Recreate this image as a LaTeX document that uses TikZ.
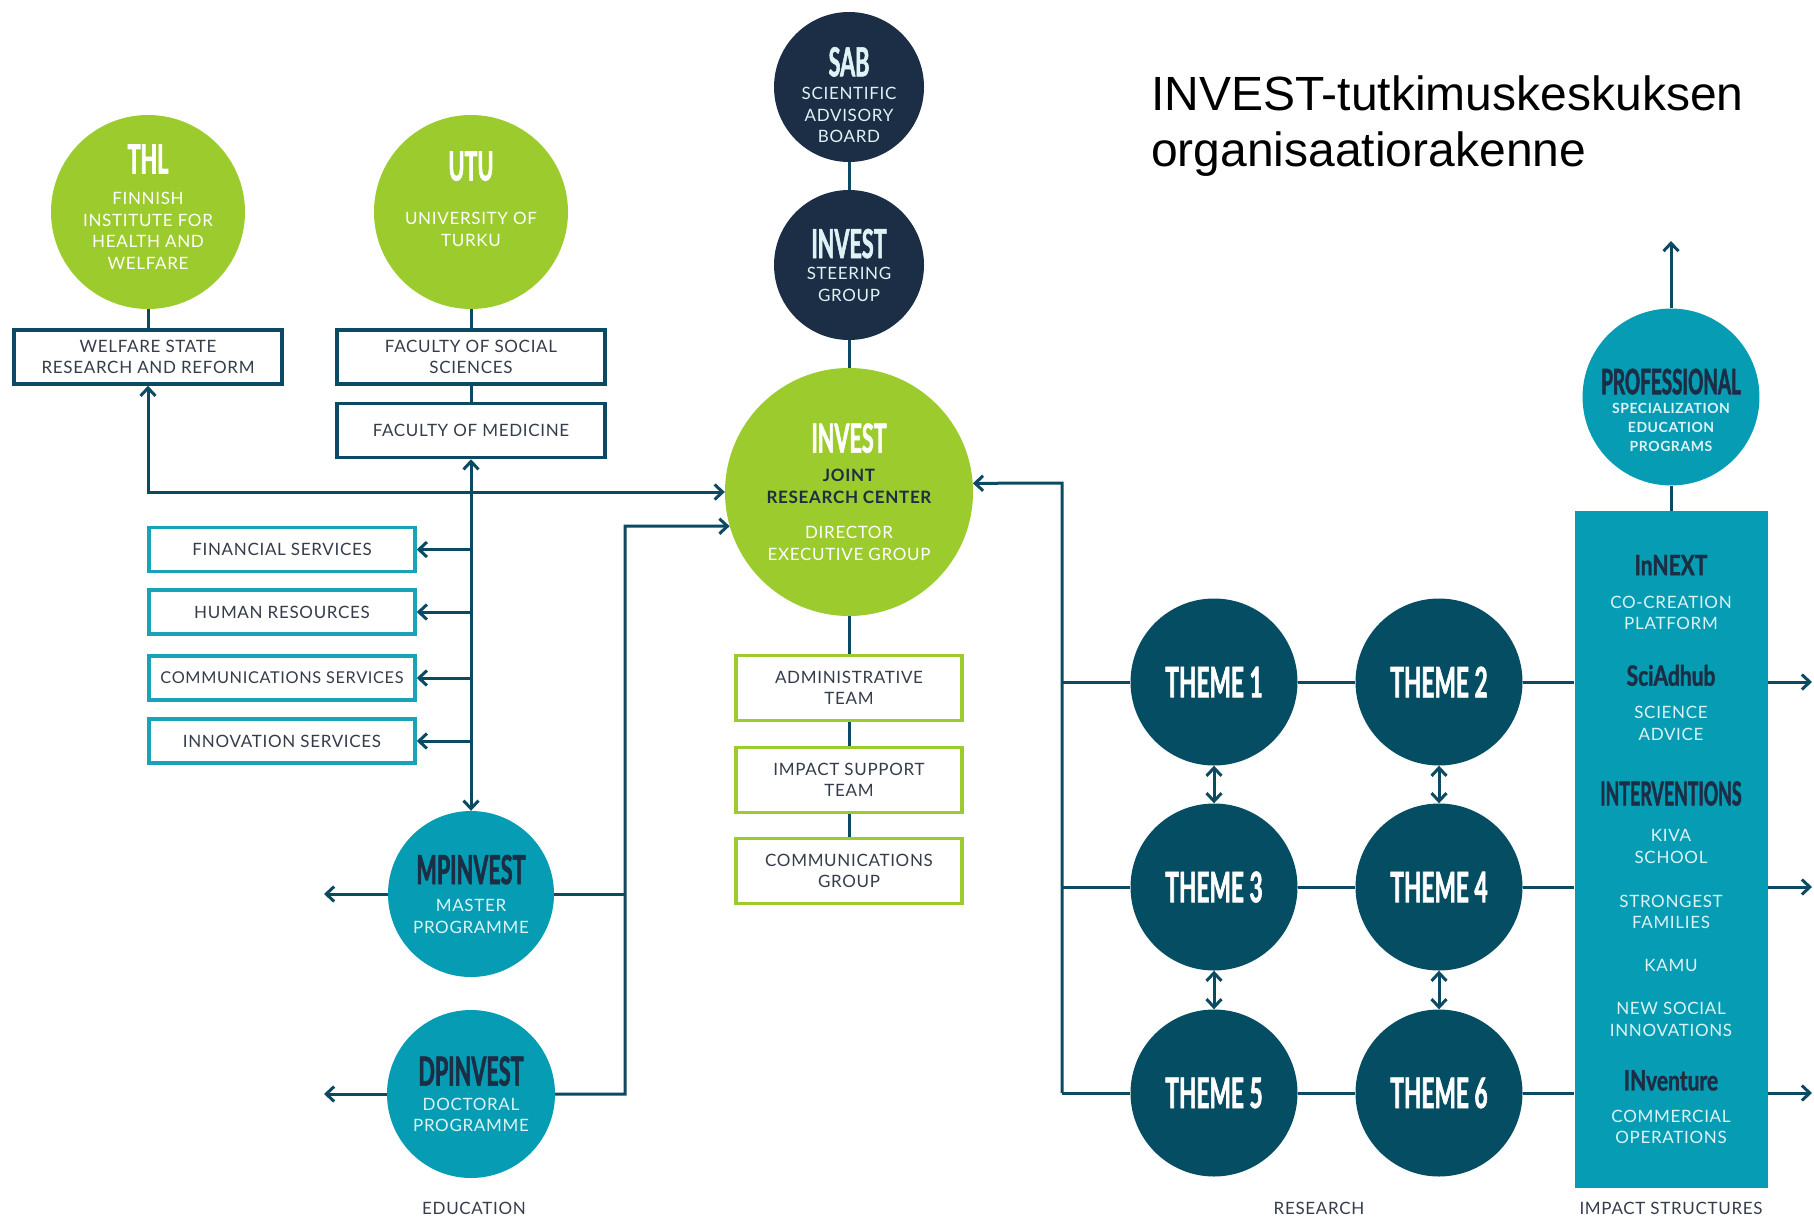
\documentclass[tikz,border=0pt]{standalone}
\usepackage{fontspec}
\setmainfont{Lato}
\newfontfamily\bodyfont[LetterSpace=4]{Lato}
\newfontfamily\headfont[FakeStretch=0.54, FakeBold=1.5]{Lato}
\newfontfamily\subheadfont[FakeStretch=0.75, FakeBold=1.2]{Lato}
\newfontfamily\titlefont{Liberation Sans}
\usetikzlibrary{arrows.meta}

\definecolor{invgreen}{HTML}{9BCB2D}
\definecolor{invnavy}{HTML}{1B2E45}
\definecolor{invdeep}{HTML}{054D63}
\definecolor{invteal}{HTML}{069CB3}
\definecolor{invsky}{HTML}{1AA3B8}
\definecolor{invline}{HTML}{0B4A62}
\definecolor{invtext}{HTML}{353D4A}
\definecolor{invpale}{HTML}{DDF3F6}

\newcommand\blobhead[2][40]{{\headfont\bfseries\fontsize{#1}{#1}\selectfont #2}}
\newcommand\unithead[2][28]{{\subheadfont\bfseries\fontsize{#1}{#1}\selectfont #2}}

\tikzset{
  link/.style={draw=invline, line width=3pt},
  blob/.style={circle, inner sep=0pt, align=center,
    font=\bodyfont\fontsize{17}{21.5}\selectfont},
  limeblob/.style={blob, fill=invgreen, text=white},
  navyblob/.style={blob, fill=invnavy, text=invpale, minimum size=150pt},
  tealblob/.style={blob, fill=invteal, text=invpale},
  themeblob/.style={blob, fill=invdeep, text=white, minimum size=167pt,
    font=\headfont\bfseries\fontsize{42}{42}\selectfont},
  unitbox/.style={rectangle, draw=invline, line width=3.5pt, fill=white,
    align=center, inner sep=0pt, minimum width=268pt, minimum height=54pt,
    text=invtext, font=\bodyfont\fontsize{17}{21}\selectfont},
  servbox/.style={unitbox, draw=invsky, minimum width=266pt, minimum height=44pt},
  teambox/.style={unitbox, draw=invgreen, minimum width=226pt, minimum height=65pt},
  impactbox/.style={rectangle, fill=invteal, inner sep=0pt, align=center,
    minimum width=193pt, minimum height=677pt, text=invpale,
    font=\bodyfont\fontsize{17}{21.5}\selectfont},
  caption/.style={text=invtext, font=\bodyfont\fontsize{17}{20}\selectfont}
}

\begin{document}
\begin{tikzpicture}[x=1pt, y=-1pt, >={Straight Barb[length=8pt,width=15pt]}]
\useasboundingbox (0,0) rectangle (1814,1218);

% Title
\node[anchor=north west, inner sep=0pt, align=left,
  font=\titlefont\fontsize{48}{56}\selectfont] (title) at (1151,75.5)
  {INVEST-tutkimuskeskuksen\\organisaatiorakenne};

% Partners
\node[limeblob, minimum size=194pt] (thl) at (148,212) {\blobhead{THL}\\[10pt]FINNISH\\INSTITUTE FOR\\HEALTH AND\\WELFARE\\[-11.5pt]\mbox{}};
\node[limeblob, minimum size=194pt] (utu) at (471,212) {\blobhead{UTU}\\[23pt]UNIVERSITY OF\\TURKU\\[4.5pt]\mbox{}};
\node[unitbox] (welfare) at (148,357) {WELFARE STATE\\RESEARCH AND REFORM};
\node[unitbox] (social) at (471,357) {FACULTY OF SOCIAL\\SCIENCES};
\node[unitbox] (medicine) at (471,430.5) {FACULTY OF MEDICINE};

% Services
\node[servbox] (finance) at (282,549.5) {FINANCIAL SERVICES};
\node[servbox] (hr) at (282,612) {HUMAN RESOURCES};
\node[servbox, font=\bodyfont\fontsize{16.3}{21}\selectfont] (commserv) at (282,678) {COMMUNICATIONS SERVICES};
\node[servbox] (innov) at (282,741) {INNOVATION SERVICES};

% Governance
\node[navyblob] (sab) at (849,87) {\mbox{}\\[15pt]\blobhead{SAB}\\[2pt]SCIENTIFIC\\ADVISORY\\BOARD};
\node[navyblob] (steer) at (849,265) {\blobhead{INVEST}\\STEERING\\GROUP};
\node[limeblob, minimum size=248pt, font=\bodyfont\fontsize{17}{22.5}\selectfont] (jrc) at (849,492)
  {\blobhead{INVEST}\\[6pt]\textcolor{invnavy}{\bfseries JOINT}\\\textcolor{invnavy}{\bfseries RESEARCH CENTER}\\[12pt]DIRECTOR\\EXECUTIVE GROUP};
\node[teambox] (admin) at (849,688) {ADMINISTRATIVE\\TEAM};
\node[teambox] (impsup) at (849,780) {IMPACT SUPPORT\\TEAM};
\node[teambox] (commgrp) at (849,871) {COMMUNICATIONS\\GROUP};

% Education
\node[tealblob, minimum size=166pt] (mp) at (471,894) {\textcolor{invnavy}{\blobhead{MPINVEST}}\\[6pt]MASTER\\PROGRAMME};
\node[tealblob, minimum size=168pt] (dp) at (471,1094) {\textcolor{invnavy}{\blobhead{DPINVEST}}\\[3pt]DOCTORAL\\PROGRAMME};

% Research
\node[themeblob] (t1) at (1214,682) {THEME 1};
\node[themeblob] (t2) at (1439,682) {THEME 2};
\node[themeblob] (t3) at (1214,887) {THEME 3};
\node[themeblob] (t4) at (1439,887) {THEME 4};
\node[themeblob] (t5) at (1214,1093) {THEME 5};
\node[themeblob] (t6) at (1439,1093) {THEME 6};

% Impact structures
\node[tealblob, minimum size=174pt, font=\bodyfont\bfseries\fontsize{14}{19}\selectfont] (prof) at (1671,397)
  {\mbox{}\\[25pt]\textcolor{invnavy}{\blobhead[35]{PROFESSIONAL}}\\SPECIALIZATION\\EDUCATION\\PROGRAMS};
\node[impactbox] (impact) at (1671,849.5)
  {\textcolor{invnavy}{\unithead{InNEXT}}\\[11.5pt]CO-CREATION\\PLATFORM\\[34.5pt]
   \textcolor{invnavy}{\unithead{SciAdhub}}\\[11.5pt]SCIENCE\\ADVICE\\[40pt]
   \textcolor{invnavy}{\blobhead[33]{INTERVENTIONS}}\\[15pt]KIVA\\SCHOOL\\[22.5pt]
   STRONGEST\\FAMILIES\\[21.5pt]KAMU\\[21.5pt]NEW SOCIAL\\INNOVATIONS\\[32.5pt]
   \textcolor{invnavy}{\unithead{INventure}}\\[10.5pt]COMMERCIAL\\OPERATIONS};

% Captions
\node[caption] (educap) at (474,1208) {EDUCATION};
\node[caption] (rescap) at (1319,1208) {RESEARCH};
\node[caption] (impcap) at (1671,1208) {IMPACT STRUCTURES};

% Free ends
\coordinate (edubus) at (625,526);
\coordinate (resbus) at (1062,483);
\coordinate (mpout) at (324,894);
\coordinate (dpout) at (324,1094);
\coordinate (profout) at (1671,241);
\coordinate (out1) at (1812,682);
\coordinate (out2) at (1812,887);
\coordinate (out3) at (1812,1093);

% Partner links
\draw[link] (thl) -- (welfare);
\draw[link] (utu) -- (social) -- (medicine);
\draw[link, <->] (welfare) |- (jrc.west);
\draw[link, <->] (medicine) -- (mp);
\draw[link, ->] (finance.east -| medicine.south) -- (finance.east);
\draw[link, ->] (hr.east -| medicine.south) -- (hr.east);
\draw[link, ->] (commserv.east -| medicine.south) -- (commserv.east);
\draw[link, ->] (innov.east -| medicine.south) -- (innov.east);

% Governance links
\draw[link] (sab) -- (steer) -- (jrc);
\draw[link] (jrc) -- (admin) -- (impsup) -- (commgrp);

% Education links
\draw[link, ->] (mp) -- (mpout);
\draw[link, ->] (dp) -- (dpout);
\draw[link] (mp) -- (mp -| edubus);
\draw[link, ->] (dp) -| (edubus) -- (jrc.196);

% Research links
\draw[link, ->] (resbus |- t5) -- (resbus) -- (jrc.4);
\draw[link] (resbus |- t1) -- (t1) -- (t2) -- (t2 -| impact.west);
\draw[link] (resbus |- t3) -- (t3) -- (t4) -- (t4 -| impact.west);
\draw[link] (resbus |- t5) -- (t5) -- (t6) -- (t6 -| impact.west);
\draw[link, <->] (t1) -- (t3);
\draw[link, <->] (t3) -- (t5);
\draw[link, <->] (t2) -- (t4);
\draw[link, <->] (t4) -- (t6);

% Impact links
\draw[link, ->] (prof) -- (profout);
\draw[link] (prof) -- (impact);
\draw[link, ->] (t2 -| impact.east) -- (out1);
\draw[link, ->] (t4 -| impact.east) -- (out2);
\draw[link, ->] (t6 -| impact.east) -- (out3);

\end{tikzpicture}
\end{document}
